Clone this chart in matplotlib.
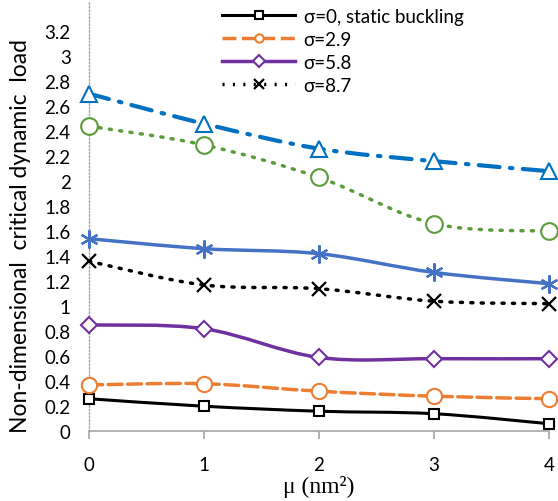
import numpy as np
import matplotlib
matplotlib.use('Agg')
import matplotlib.pyplot as plt
from matplotlib.path import Path
from matplotlib.patches import PathPatch
from matplotlib.lines import Line2D

plt.rcParams['font.family'] = ['Lato', 'DejaVu Sans']

mu = [0, 1, 2, 3, 4]
s0 = [0.26, 0.20, 0.16, 0.14, 0.06]
s29 = [0.37, 0.38, 0.32, 0.28, 0.26]
s58 = [0.85, 0.82, 0.59, 0.58, 0.58]
s87 = [1.36, 1.17, 1.14, 1.04, 1.02]
star = [1.54, 1.46, 1.42, 1.27, 1.18]
green = [2.44, 2.29, 2.03, 1.66, 1.60]
tri = [2.70, 2.46, 2.26, 2.16, 2.08]

legend_labels = ['σ=0, static buckling', 'σ=2.9', 'σ=5.8', 'σ=8.7']
yticks = np.arange(0, 3.21, 0.2)


def smooth_path(x, y):
    # excel style smoothed line: cubic bezier through the points
    p = np.column_stack([x, y]).astype(float)
    pts = np.vstack([p[0], p, p[-1]])
    verts = [p[0]]
    codes = [Path.MOVETO]
    for i in range(1, len(pts) - 2):
        c1 = pts[i] + (pts[i + 1] - pts[i - 1]) / 6
        c2 = pts[i + 1] - (pts[i + 2] - pts[i]) / 6
        verts += [c1, c2, pts[i + 1]]
        codes += [Path.CURVE4] * 3
    return Path(verts, codes)


fig = plt.figure(figsize=(5.58, 5.02), dpi=100)
ax = fig.add_axes([0.159, 0.139, 0.825, 0.797])

series = [
    (s0, 'black', '-', 2.2, 's', 7),
    (s29, '#ED7D31', (0, (4, 1.6)), 2.5, 'o', 11),
    (s58, '#7030A0', '-', 2.5, 'D', 8),
    (s87, 'black', (0, (0.6, 2.4)), 2.5, 'x', 10),
    (star, '#4472C4', '-', 2.5, (6, 2, 0), 13),
    (green, '#5B9B3A', (0, (0.6, 2.4)), 2.5, 'o', 12),
    (tri, '#0070C0', (0, (5, 2.5, 0.6, 2.5)), 3.0, '^', 11),
]

for vals, col, ls, lw, mk, ms in series:
    patch = PathPatch(smooth_path(mu, vals), facecolor='none', edgecolor=col,
                      linestyle=ls, linewidth=lw, capstyle='round', zorder=2)
    ax.add_patch(patch)
    if mk in ('x', (6, 2, 0)):
        ax.plot(mu, vals, linestyle='none', marker=mk, markersize=ms,
                color=col, markeredgewidth=1.6, zorder=3, clip_on=False)
    else:
        ax.plot(mu, vals, linestyle='none', marker=mk, markersize=ms,
                markerfacecolor='white', markeredgecolor=col,
                markeredgewidth=1.5, zorder=3, clip_on=False)

ax.set_xlim(0, 4)
ax.set_ylim(0, 3.2)
ax.set_xticks(mu)
ax.set_yticks(yticks)
ax.yaxis.set_major_formatter(plt.FuncFormatter(lambda v, p: '%g' % round(v, 1)))

for s in ['top', 'right']:
    ax.spines[s].set_visible(False)
ax.spines['bottom'].set_color('#A6A6A6')
ax.spines['bottom'].set_linewidth(1.2)
ax.spines['left'].set_color('#A6A6A6')
ax.spines['left'].set_linestyle((0, (1, 1.5)))
ax.spines['left'].set_linewidth(1.0)
ax.spines['left'].set_bounds(0, 3.43)

ax.tick_params(axis='x', length=6, color='#A6A6A6', width=1.2, labelsize=13.5, pad=12)
ax.tick_params(axis='y', length=0, labelsize=13.5, pad=13)

ax.set_xlabel('μ (nm²)', fontsize=17, family='Liberation Serif', labelpad=1)
ax.set_ylabel('Non-dimensional  critical dynamic  load', fontsize=16.5)
ax.yaxis.set_label_coords(-0.125, 0.49)

handles = []
for vals, col, ls, lw, mk, ms in series[:4]:
    if mk == 'x':
        h = Line2D([], [], color=col, linestyle=ls, linewidth=lw, marker=mk,
                   markersize=7, markeredgewidth=1.6)
    else:
        h = Line2D([], [], color=col, linestyle=ls, linewidth=lw, marker=mk,
                   markersize=6, markerfacecolor='white', markeredgecolor=col,
                   markeredgewidth=1.5)
    handles.append(h)

fig.legend(handles, legend_labels, loc='upper left', bbox_to_anchor=(0.378, 1.005),
           frameon=False, fontsize=13.5, handlelength=3.9, numpoints=1,
           labelspacing=0.32, handletextpad=0.45, borderaxespad=0.2)

plt.savefig('out.png', dpi=100)
